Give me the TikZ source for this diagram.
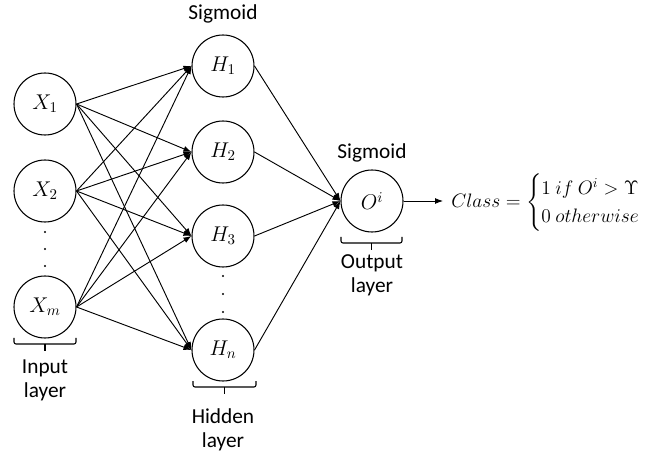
\documentclass[tikz,border=0pt]{standalone}
\usepackage{fix-cm}
\usepackage{amsmath}
\usepackage[no-math]{fontspec}
\setmainfont{Carlito}
\usetikzlibrary{arrows.meta}

% bracket under a layer: ends turn up, a short tick points down
\newcommand{\layerbracket}[3]{%
  \draw[bracket] (#1,#3) -- (#1,#3+6) -- (#2,#3+6) -- (#2,#3);
  \draw[bracket] ({(#1+#2)/2},#3+6) -- ({(#1+#2)/2},#3+13);}

\begin{document}
\begin{tikzpicture}[x=0.75pt,y=-0.75pt,
  neuron/.style={circle,draw,line width=0.8pt,minimum size=46.5pt,inner sep=0pt,
                 font=\fontsize{16}{18}\selectfont},
  link/.style={line width=0.7pt,-{Latex[length=6pt,width=4.5pt]}},
  lbl/.style={font=\fontsize{16}{18}\selectfont,align=center,inner sep=0pt},
  bracket/.style={line width=0.8pt,rounded corners=1.5pt}]

\path[use as bounding box] (0,0) rectangle (657,452);

% input layer
\node[neuron] (x1) at (45,104) {$X_1$};
\node[neuron] (x2) at (45,191) {$X_2$};
\node[neuron] (xm) at (45,307) {$X_m$};

% hidden layer
\node[neuron] (h1) at (223,66)  {$H_1$};
\node[neuron] (h2) at (223,152) {$H_2$};
\node[neuron] (h3) at (223,236) {$H_3$};
\node[neuron] (hn) at (223,350) {$H_n$};

% output neuron
\node[neuron] (o) at (372,201) {$O^i$};

% vertical ellipses
\foreach \y in {232,249,266} \fill (45,\y) circle (1.1);
\foreach \y in {276,294,312} \fill (223,\y) circle (1.1);

% weights
\foreach \s in {x1,x2,xm}
  \foreach \t in {h1,h2,h3,hn}
    \draw[link] (\s.east) -- (\t.west);
\foreach \t in {h1,h2,h3,hn}
  \draw[link] (\t.east) -- (o.west);

% decision rule
\coordinate (tip) at (443,201);
\draw[link] (o.east) -- (tip);
\node[anchor=west,inner sep=0pt,font=\fontsize{14.6}{17}\selectfont] (cls) at (451,203)
  {$Class = \begin{cases} 1\ if\ O^i > \Upsilon \\ 0\ otherwise \end{cases}$};

% layer captions
\node[lbl] (sgh) at (223,14)  {Sigmoid};
\node[lbl] (sgo) at (372,153) {Sigmoid};
\layerbracket{14}{76}{338}
\layerbracket{193}{256}{381}
\layerbracket{341}{402}{237}
\node[lbl] (inl)  at (45,380)  {Input\\layer};
\node[lbl] (hidl) at (223,430) {Hidden\\layer};
\node[lbl] (outl) at (372,275) {Output\\layer};

\end{tikzpicture}
\end{document}
